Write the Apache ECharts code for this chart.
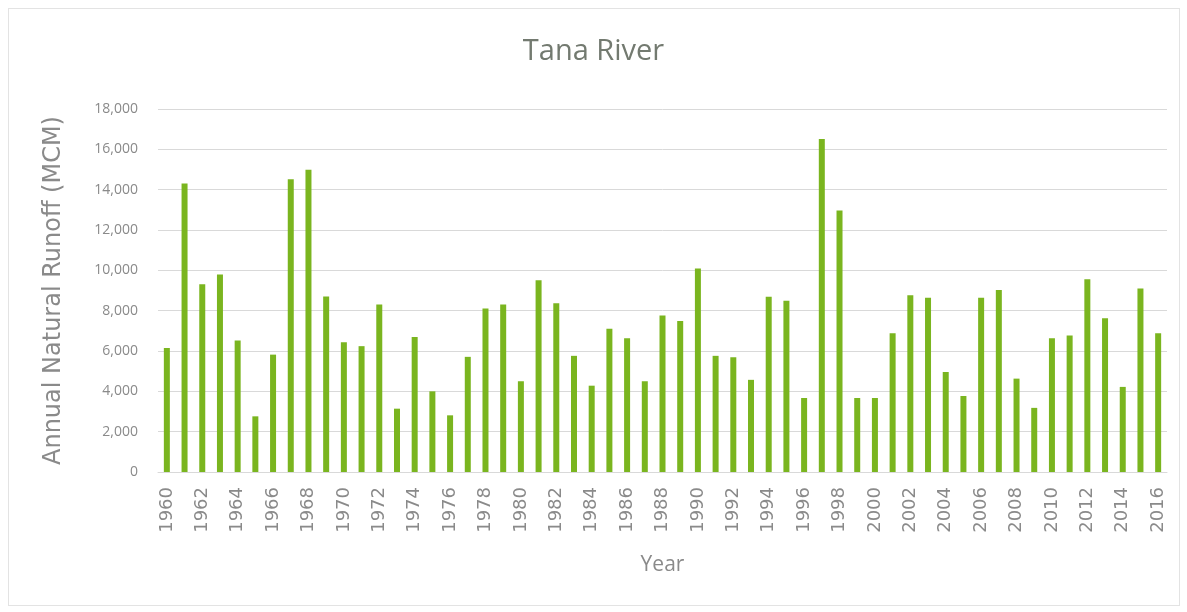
<!DOCTYPE html>
<html>
<head>
<meta charset="utf-8">
<script src="https://cdn.jsdelivr.net/npm/echarts@6/dist/echarts.min.js"></script>
<style>
    html,body{
        margin:0;
        padding:0;
        background:#fff;
    }
    .frame{
        position:absolute;
        left:8px;
        top:8px;
        width:1170px;
        height:596px;
        border:1px solid #e3e3e3;
    }
    #chart{
        width:1187px;
        height:612px;
    }
</style>
</head>
<body>
<div class="frame"></div>
<div id="chart"></div>
<script>
// years 1960..2016
let years=[]
for(let y=1960;y<=2016;y++){ years.push(String(y)) }

// annual natural runoff, MCM
let runoff=[
    6150,14310,9310,9790,6520,2760,5820,14520,14990,8700,
    6430,6240,8300,3140,6700,4000,2810,5710,8110,8300,
    4500,9510,8370,5760,4280,7100,6630,4500,7760,7490,
    10090,5760,5690,4570,8690,8490,3670,16510,12970,3670,
    3670,6880,8770,8640,4960,3770,8640,9030,4630,3180,
    6630,6770,9560,7630,4220,9100,6880
]

let yTicks={min:0,max:18000,interval:2000}

let sans="'Open Sans',sans-serif"
let wide="'DejaVu Sans',sans-serif"

let chart=echarts.init(document.getElementById("chart"))
chart.setOption({
    animation:false,
    title:{
        text:"Tana River",
        left:"center",
        top:32,
        textStyle:{
            color:"#737a70",
            fontFamily:sans,
            fontWeight:"normal",
            fontSize:29
        }
    },
    grid:{
        left:158,
        right:20,
        top:109,
        bottom:140
    },
    xAxis:{
        type:"category",
        data:years,
        name:"Year",
        nameLocation:"middle",
        nameGap:83,
        nameTextStyle:{
            color:"#8a8a8a",
            fontFamily:sans,
            fontSize:21
        },
        axisLine:{
            lineStyle:{
                color:"#d9d9d9"
            }
        },
        axisTick:{show:false},
        axisLabel:{
            interval:1,
            rotate:90,
            margin:15,
            color:"#8a8a8a",
            fontFamily:wide,
            fontSize:18
        }
    },
    yAxis:{
        type:"value",
        min:yTicks.min,
        max:yTicks.max,
        interval:yTicks.interval,
        name:"Annual Natural Runoff (MCM)",
        nameLocation:"middle",
        nameGap:92,
        nameTextStyle:{
            color:"#8a8a8a",
            fontFamily:wide,
            fontSize:24
        },
        axisLine:{show:false},
        axisTick:{show:false},
        axisLabel:{
            margin:20,
            color:"#8a8a8a",
            fontFamily:sans,
            fontSize:14,
            formatter:(v)=>v.toLocaleString("en-US")
        },
        splitLine:{
            lineStyle:{
                color:"#d9d9d9",
                width:1
            }
        }
    },
    series:[
        {
            type:"bar",
            data:runoff,
            barWidth:6,
            itemStyle:{
                color:"#7ab51f"
            }
        }
    ]
})
</script>
</body>
</html>
